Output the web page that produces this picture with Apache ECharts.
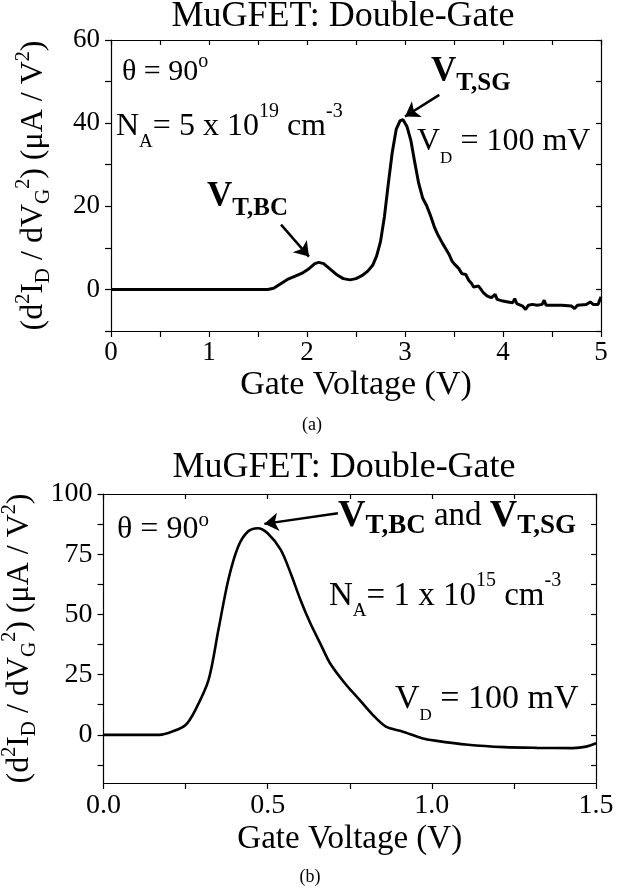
<!DOCTYPE html>
<html>
<head>
<meta charset="utf-8">
<script src="https://cdn.jsdelivr.net/npm/echarts@6/dist/echarts.min.js"></script>
<style>
  html, body { margin: 0; padding: 0; background: #fff; }
  #chart { width: 631px; height: 890px; }
</style>
</head>
<body>
<div id="chart"></div>
<script>
// (a) N_A = 5e19 cm^-3 : gate voltage (V) vs d2ID/dVG2 (uA/V2)
const gateA = [0, 1.6, 1.66, 1.72, 1.8, 1.88, 1.95, 2.02, 2.08, 2.12, 2.17, 2.23, 2.3, 2.37, 2.44, 2.5,
  2.56, 2.62, 2.67, 2.71, 2.75, 2.79, 2.83, 2.87, 2.91, 2.95, 2.98, 3.02, 3.06, 3.1, 3.14, 3.18,
  3.22, 3.26, 3.3, 3.33, 3.35, 3.38, 3.42, 3.45, 3.48, 3.5, 3.52, 3.55, 3.58, 3.6, 3.62, 3.65,
  3.68, 3.7, 3.72, 3.75, 3.77, 3.8, 3.84, 3.88, 3.9, 3.92, 3.94, 4.0, 4.05, 4.1, 4.12, 4.14,
  4.2, 4.23, 4.26, 4.3, 4.35, 4.4, 4.42, 4.44, 4.55, 4.6, 4.7, 4.73, 4.76, 4.85, 4.89, 4.92,
  4.97, 5.0]
const d2A = [0, 0, 0.3, 1.2, 2.4, 3.2, 3.9, 5.0, 6.2, 6.5, 6.2, 5.0, 3.6, 2.6, 2.3, 2.6,
  3.3, 4.4, 5.8, 8.0, 11.5, 17.5, 25.5, 33, 38.5, 40.6, 40.8, 39.2, 35.8, 30.5, 25.5, 22.0,
  20.2, 17.8, 15.0, 13.4, 13.8, 11.2, 9.6, 8.4, 6.8, 6.2, 6.6, 5.0, 3.8, 3.4, 3.6, 2.2,
  1.4, 0.6, 0.2, 0.8, 0.2, -0.8, -1.6, -2.0, -1.8, -1.2, -2.4, -2.8, -3.0, -3.2, -2.2, -3.4,
  -4.0, -4.8, -3.8, -3.6, -3.8, -3.6, -2.6, -3.8, -3.8, -3.8, -4.0, -4.6, -3.8, -3.6, -3.0, -3.6,
  -3.6, -1.8]

// (b) N_A = 1e15 cm^-3
const gateB = [0, 0.17, 0.21, 0.25, 0.28, 0.32, 0.35, 0.38, 0.41, 0.44, 0.47, 0.5, 0.54, 0.57, 0.6,
  0.63, 0.66, 0.69, 0.735, 0.78, 0.82, 0.86, 0.91, 0.97, 1.01, 1.11, 1.22, 1.32, 1.43, 1.47, 1.5]
const d2B = [0, 0, 1.4, 4.1, 10.4, 22.8, 43.6, 64.3, 78.1, 84.4, 85.8, 83.7, 76.8, 67.1, 56,
  46.3, 38, 29.7, 21.4, 14.5, 8.3, 3.4, 1.4, -1.4, -2.4, -4.1, -5.1, -5.4, -5.5, -4.9, -3.5]

// ticks and tick labels
const xTicksA = [0, 0.5, 1, 1.5, 2, 2.5, 3, 3.5, 4, 4.5, 5]
const xLabelsA = [0, 1, 2, 3, 4, 5]
const yTicksA = [-10, 0, 10, 20, 30, 40, 50, 60]
const yLabelsA = [0, 20, 40, 60]
const xTicksB = [0, 0.25, 0.5, 0.75, 1, 1.25, 1.5]
const xLabelsB = [0, 0.5, 1, 1.5]
const yTicksB = [-12.5, 0, 12.5, 25, 37.5, 50, 62.5, 75, 87.5, 100]
const yLabelsB = [0, 25, 50, 75, 100]

const serif = '"Liberation Serif", "Times New Roman", serif'
const ax = { color: '#000', width: 1.2 }

// line heights for super/subscripts placed by verticalAlign top/bottom
const supLH = (M, S, H, u) => H + 0.675 * (M - S) - 2 * u
const subLH = (M, S, H, d) => H + 0.675 * (S - M) - 2 * d

function tok(size, lh, extra) {
  return Object.assign({ fontFamily: serif, fontSize: size, lineHeight: lh, color: '#000', fill: '#000' }, extra || {})
}

const yNameRich = {
  n: tok(32, 40),
  sup: tok(20, supLH(32, 20, 40, 11), { verticalAlign: 'top' }),
  sub: tok(21, subLH(32, 21, 40, 6), { verticalAlign: 'bottom' })
}
const yName = '{n|(d}{sup|2}{n|I}{sub|D}{n| / dV}{sub|G}{sup|2}{n|) (μA / V}{sup|2}{n|)}'

function xMain(grid, min, max, ticks, labels, fmt, margin, gap, nameSize, tickSize) {
  return {
    type: 'value', gridIndex: grid, min: min, max: max, position: 'bottom',
    name: 'Gate Voltage (V)', nameLocation: 'middle', nameGap: gap,
    nameTextStyle: { fontFamily: serif, fontSize: nameSize, color: '#000' },
    axisLine: { onZero: false, lineStyle: ax },
    axisTick: { customValues: ticks, length: 6, lineStyle: ax },
    axisLabel: { customValues: labels, formatter: fmt, margin: margin, fontFamily: serif, fontSize: tickSize, color: '#000' },
    splitLine: { show: false }
  }
}
function yMain(grid, min, max, ticks, labels, gap, tickSize) {
  return {
    type: 'value', gridIndex: grid, min: min, max: max, position: 'left',
    name: yName, nameLocation: 'middle', nameGap: gap, nameRotate: 90,
    nameTextStyle: { rich: yNameRich },
    axisLine: { onZero: false, lineStyle: ax },
    axisTick: { customValues: ticks, length: 6, lineStyle: ax },
    axisLabel: { customValues: labels, margin: 11, fontFamily: serif, fontSize: tickSize, color: '#000' },
    splitLine: { show: false }
  }
}
function mirror(grid, min, max, ticks, pos) {
  return {
    type: 'value', gridIndex: grid, min: min, max: max, position: pos,
    axisLine: { onZero: false, lineStyle: ax },
    axisTick: { inside: true, customValues: ticks, length: 5, lineStyle: ax },
    axisLabel: { show: false },
    splitLine: { show: false }
  }
}

function arrow(from, to) {
  return {
    silent: true, symbol: ['none', 'arrow'], symbolSize: 14, animation: false,
    label: { show: false },
    lineStyle: { color: '#000', width: 2.5, type: 'solid' },
    emphasis: { disabled: true },
    data: [[{ coord: from }, { coord: to }]]
  }
}

function note(x, y, text, rich, align) {
  return { type: 'text', x: x, y: y, silent: true,
    style: { text: text, rich: rich, align: align || 'left', verticalAlign: 'middle', fill: '#000' } }
}

function thetaRich(M, S) {
  return { n: tok(M, 40), sup: tok(S, supLH(M, S, 40, 9), { verticalAlign: 'top' }) }
}
function naRich(M) {
  return {
    n: tok(M, 50),
    sup: tok(20, supLH(M, 20, 50, 15), { verticalAlign: 'top' }),
    sub: tok(19, subLH(M, 19, 50, 13), { verticalAlign: 'bottom' })
  }
}
function vdRich(M) {
  return { n: tok(M, 50), sub: tok(17, subLH(M, 17, 50, 13), { verticalAlign: 'bottom' }) }
}
function vtRich(M, S, N) {
  return {
    b: tok(M, 48, { fontWeight: 'bold' }),
    bs: tok(S, subLH(M, S, 48, 10), { verticalAlign: 'bottom', fontWeight: 'bold' }),
    n: tok(N, 48)
  }
}
const titleStyle = { n: tok(36, 40) }
const capStyle = { n: tok(18, 20) }

const option = {
  animation: false,
  backgroundColor: '#fff',
  grid: [
    { left: 111, top: 40, width: 490, height: 291, outerBoundsMode: 'none' },
    { left: 103.5, top: 494, width: 492.5, height: 289, outerBoundsMode: 'none' }
  ],
  xAxis: [
    xMain(0, 0, 5, xTicksA, xLabelsA, (v) => String(v), 8, 37, 34, 27),
    mirror(0, 0, 5, xTicksA, 'top'),
    xMain(1, 0, 1.5, xTicksB, xLabelsB, (v) => v.toFixed(1), 9, 40, 33, 28),
    mirror(1, 0, 1.5, xTicksB, 'top')
  ],
  yAxis: [
    yMain(0, -10, 60, yTicksA, yLabelsA, 57, 27),
    mirror(0, -10, 60, yTicksA, 'right'),
    yMain(1, -20, 100, yTicksB, yLabelsB, 53, 28),
    mirror(1, -20, 100, yTicksB, 'right')
  ],
  series: [
    {
      type: 'line', xAxisIndex: 0, yAxisIndex: 0, showSymbol: false, silent: true,
      data: gateA.map((g, i) => [g, d2A[i]]),
      lineStyle: { color: '#000', width: 3 },
      markLine: arrow([3.35, 46.8], [3.0, 41.6])
    },
    {
      type: 'line', xAxisIndex: 0, yAxisIndex: 0, showSymbol: false, silent: true,
      data: [], markLine: arrow([1.735, 15.6], [2.02, 7.9])
    },
    {
      type: 'line', xAxisIndex: 2, yAxisIndex: 2, showSymbol: false, silent: true, smooth: 0.3,
      data: gateB.map((g, i) => [g, d2B[i]]),
      lineStyle: { color: '#000', width: 2.6 },
      markLine: arrow([0.714, 92], [0.49, 87.6])
    }
  ],
  graphic: [
    note(343, 17, '{n|MuGFET: Double-Gate}', titleStyle, 'center'),
    note(344, 468, '{n|MuGFET: Double-Gate}', titleStyle, 'center'),
    note(312, 425, '{n|(a)}', capStyle, 'center'),
    note(310, 877, '{n|(b)}', capStyle, 'center'),
    note(122, 72, '{n|θ = 90}{sup|o}', thetaRich(30, 20)),
    note(116, 127, '{n|N}{sub|A}{n|= 5 x 10}{sup|19}{n| cm}{sup|-3}', naRich(32)),
    note(431, 72, '{b|V}{bs|T,SG}', vtRich(35, 25, 30)),
    note(417, 142, '{n|V}{sub|D}{n| = 100 mV}', vdRich(32)),
    note(207, 197, '{b|V}{bs|T,BC}', vtRich(35, 25, 30)),
    note(117, 530, '{n|θ = 90}{sup|o}', thetaRich(32, 21)),
    note(338, 516, '{b|V}{bs|T,BC}{n| and }{b|V}{bs|T,SG}', vtRich(38, 27, 33)),
    note(329, 596, '{n|N}{sub|A}{n|= 1 x 10}{sup|15}{n| cm}{sup|-3}', naRich(33)),
    note(395, 699, '{n|V}{sub|D}{n| = 100 mV}', vdRich(34))
  ]
}

const chart = echarts.init(document.getElementById('chart'))
chart.setOption(option)
window.addEventListener('resize', () => chart.resize())
</script>
</body>
</html>
